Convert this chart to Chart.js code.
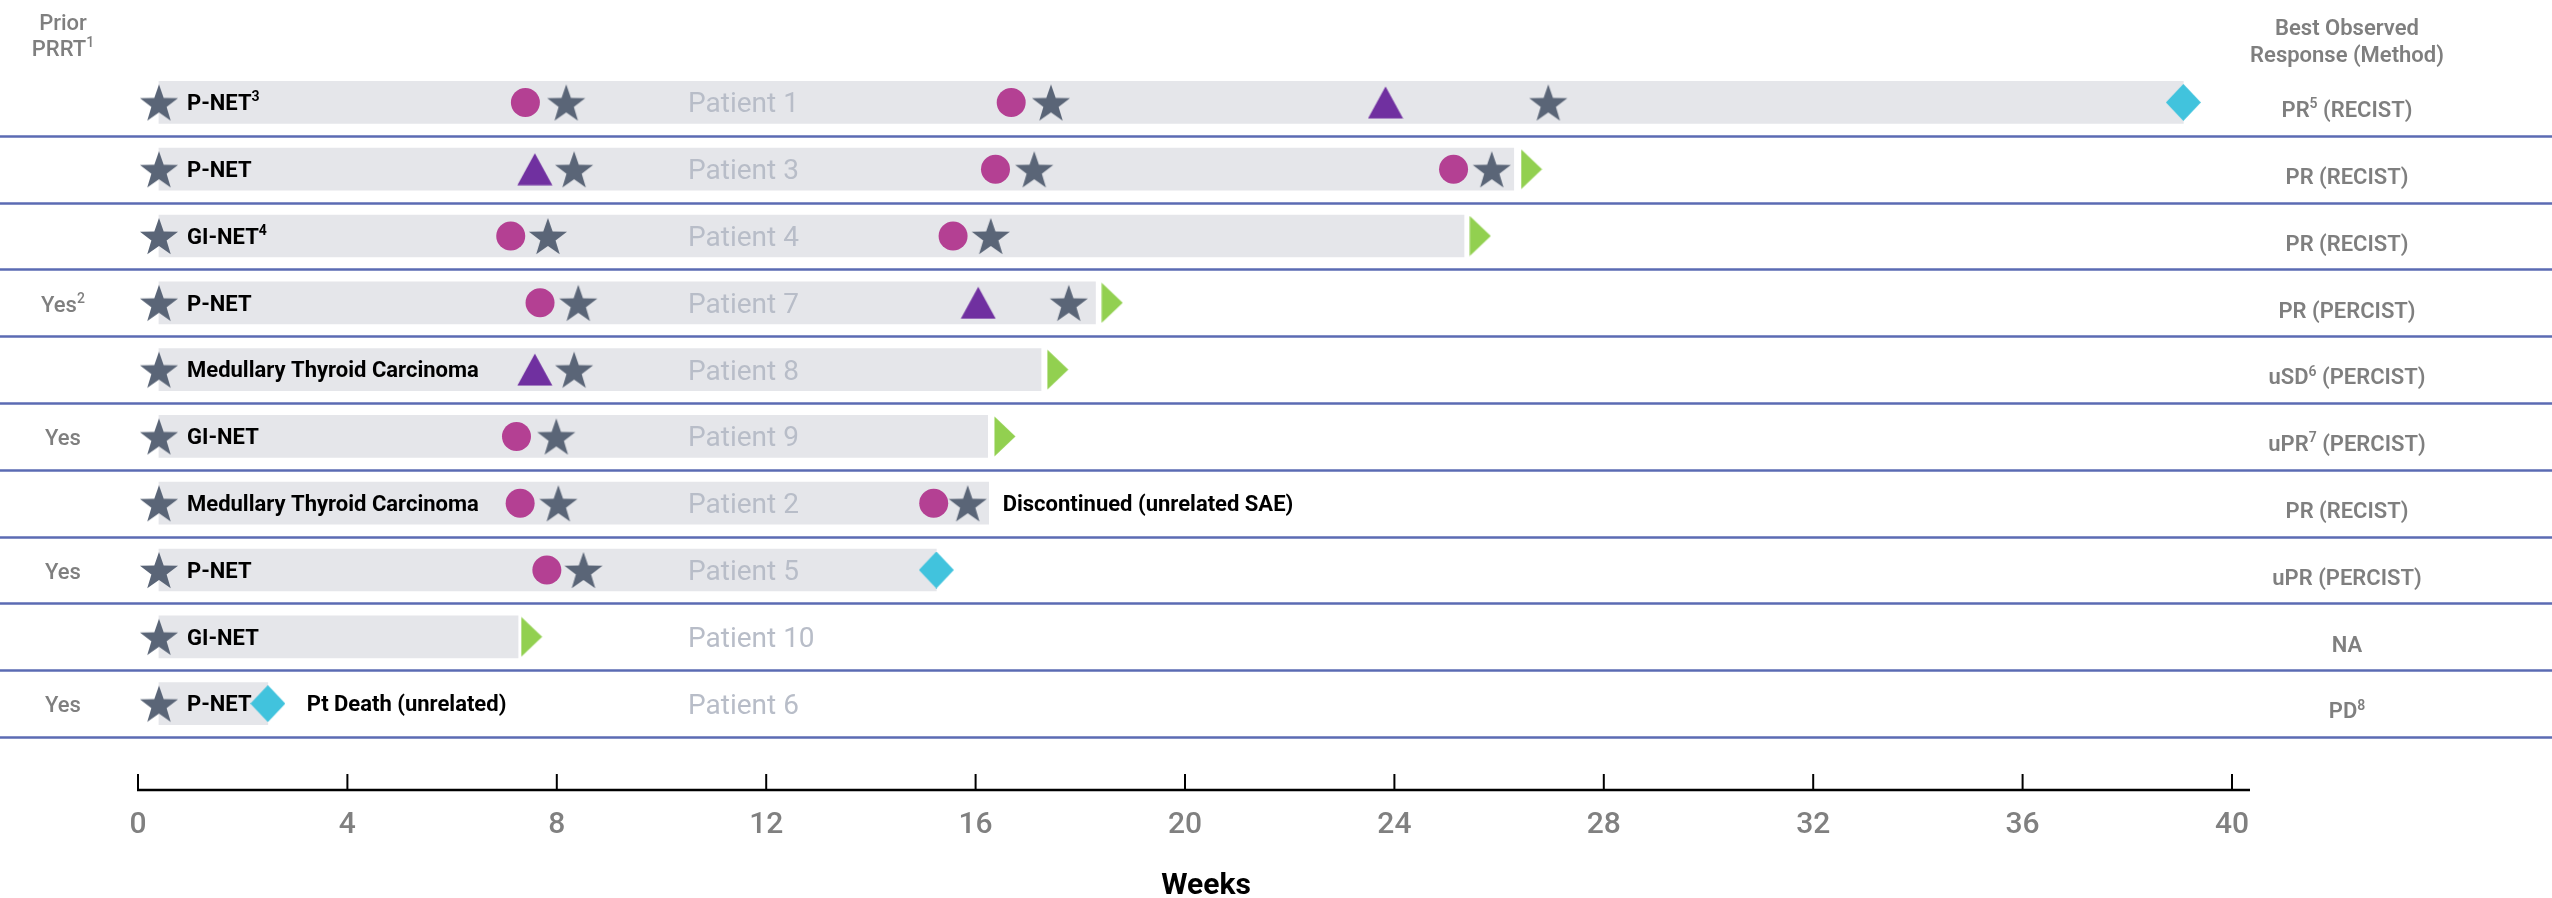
<!DOCTYPE html>
<html>
<head>
<meta charset="utf-8">
<title>Swimmer plot</title>
<script src="https://cdn.jsdelivr.net/npm/chart.js@4.4.1/dist/chart.umd.min.js"></script>
<style>
  html, body { margin: 0; padding: 0; background: #fff; }
</style>
</head>
<body>
<canvas id="swimmer" width="2552" height="898"></canvas>
<script>
/* ============================================================
   Swimmer plot — weeks on treatment per patient
   ============================================================ */

// ── Rows, top to bottom ('^' marks a one-digit superscript) ──
const patients = ['Patient 1', 'Patient 3', 'Patient 4', 'Patient 7', 'Patient 8',
                  'Patient 9', 'Patient 2', 'Patient 5', 'Patient 10', 'Patient 6'];
const tumourTypes = ['P-NET^3', 'P-NET', 'GI-NET^4', 'P-NET', 'Medullary Thyroid Carcinoma',
                     'GI-NET', 'Medullary Thyroid Carcinoma', 'P-NET', 'GI-NET', 'P-NET'];
const priorPRRT = ['', '', '', 'Yes^2', '', 'Yes', '', 'Yes', '', 'Yes'];
const bestResponse = ['PR^5 (RECIST)', 'PR (RECIST)', 'PR (RECIST)', 'PR (PERCIST)', 'uSD^6 (PERCIST)',
                      'uPR^7 (PERCIST)', 'PR (RECIST)', 'uPR (PERCIST)', 'NA', 'PD^8'];
const endNotes = ['', '', '', '', '', '', 'Discontinued (unrelated SAE)', '', '', 'Pt Death (unrelated)'];

// ── Weeks ─────────────────────────────────────────────────────
const startWeek = [0.4, 0.4, 0.4, 0.4, 0.4, 0.4, 0.4, 0.4, 0.4, 0.4];
const endWeek   = [39.07, 26.28, 25.33, 18.29, 17.25, 16.23, 16.25, 15.25, 7.26, 2.48];

const starWeeks = [
  [0.4, 8.18, 17.44, 26.94],
  [0.4, 8.33, 17.12, 25.86],
  [0.4, 7.83, 16.29],
  [0.4, 8.41, 17.78],
  [0.4, 8.33],
  [0.4, 7.99],
  [0.4, 8.03, 15.85],
  [0.4, 8.51],
  [0.4],
  [0.4]
];
const circleWeeks = [
  [7.40, 16.68], [16.38, 25.13], [7.12, 15.57], [7.68], [],
  [7.23], [7.30, 15.20], [7.81], [], []
];
const triangleWeeks = [
  [23.83], [7.58], [], [16.05], [7.58], [], [], [], [], []
];
const ongoingWeeks = [null, 26.62, 25.64, 18.61, 17.57, 16.56, null, null, 7.52, null];
const stopWeeks    = [39.07, null, null, null, null, null, null, 15.25, null, 2.48];

const weekTicks = [0, 4, 8, 12, 16, 20, 24, 28, 32, 36, 40];

// ── Colours ───────────────────────────────────────────────────
const C = {
  bar: '#e5e6ea',
  star: '#5a6577',
  circle: '#b44093',
  triangle: '#7030a0',
  ongoing: '#92d050',
  stop: '#41c3dd',
  rule: '#5b6bb3',
  grey: '#7f7f7f',
  patient: '#b8bdc8'
};
const FONT = "Roboto, 'Noto Sans', sans-serif";
Chart.defaults.font.family = FONT;

// ── Marker glyphs ─────────────────────────────────────────────
function glyph(w, h, color, path) {
  const c = document.createElement('canvas');
  c.width = w; c.height = h;
  const g = c.getContext('2d');
  g.fillStyle = color;
  g.beginPath();
  path(g, w, h);
  g.closePath();
  g.fill();
  return c;
}
const starIcon = glyph(40, 38, C.star, (g) => {
  const R = 20, r = 8, cx = 20, cy = 21;
  for (let i = 0; i < 10; i++) {
    const a = -Math.PI / 2 + i * Math.PI / 5;
    const d = i % 2 ? r : R;
    g.lineTo(cx + d * Math.cos(a), cy + d * Math.sin(a));
  }
});
const triIcon = glyph(36, 33, C.triangle, (g) => {
  g.moveTo(18, 0.5); g.lineTo(35.5, 32.5); g.lineTo(0.5, 32.5);
});
const arrowIcon = glyph(22, 41, C.ongoing, (g) => {
  g.moveTo(0.5, 0.5); g.lineTo(21.5, 20.5); g.lineTo(0.5, 40.5);
});
const diamondIcon = glyph(35, 37, C.stop, (g) => {
  g.moveTo(17.5, 0); g.lineTo(35, 18.5); g.lineTo(17.5, 37); g.lineTo(0, 18.5);
});

const points = (lists) => lists.flatMap((ws, i) => ws.map(w => ({ x: w, y: patients[i] })));
const single = (arr) => arr.map((w, i) => (w === null ? null : { x: w, y: patients[i] })).filter(Boolean);

// ── Text helpers ──────────────────────────────────────────────
function pieces(str) {
  const segs = str.split('^');
  const out = [{ t: segs[0], sup: false }];
  for (let k = 1; k < segs.length; k++) {
    out.push({ t: segs[k][0], sup: true });
    if (segs[k].length > 1) out.push({ t: segs[k].slice(1), sup: false });
  }
  return out;
}
function drawRich(ctx, str, x, yMid, size, weight, color, align) {
  const base = `${weight} ${size}px ${FONT}`;
  const sup = `${weight} ${Math.round(size * 0.62)}px ${FONT}`;
  const ps = pieces(str);
  let total = 0;
  ps.forEach(p => { ctx.font = p.sup ? sup : base; p.w = ctx.measureText(p.t).width; total += p.w; });
  let cx = align === 'center' ? x - total / 2 : x;
  const baseline = yMid + size * 0.355;
  ctx.fillStyle = color;
  ctx.textAlign = 'left';
  ctx.textBaseline = 'alphabetic';
  ps.forEach(p => {
    ctx.font = p.sup ? sup : base;
    ctx.fillText(p.t, cx, p.sup ? baseline - size * 0.4 : baseline);
    cx += p.w;
  });
}

// ── Plugin: row rules, side columns, labels, time axis ───────
const swimmerDecor = {
  id: 'swimmerDecor',
  afterDraw(chart) {
    const { ctx, chartArea, scales: { x, y } } = chart;
    const rowH = y.getPixelForValue(1) - y.getPixelForValue(0);
    ctx.save();

    // row separators across the whole width
    ctx.strokeStyle = C.rule;
    ctx.lineWidth = 2.5;
    patients.forEach((p, i) => {
      const yy = Math.round(y.getPixelForValue(i) + rowH / 2) + 0.5;
      ctx.beginPath();
      ctx.moveTo(0, yy);
      ctx.lineTo(chart.width, yy);
      ctx.stroke();
    });

    // column headers
    const leftCol = 63;
    const rightCol = chartArea.right + 115;
    drawRich(ctx, 'Prior', leftCol, 22, 22, 500, C.grey, 'center');
    drawRich(ctx, 'PRRT^1', leftCol, 48, 22, 500, C.grey, 'center');
    drawRich(ctx, 'Best Observed', rightCol, 27, 22, 600, C.grey, 'center');
    drawRich(ctx, 'Response (Method)', rightCol, 54, 22, 600, C.grey, 'center');

    patients.forEach((p, i) => {
      const yc = y.getPixelForValue(i);
      if (priorPRRT[i]) drawRich(ctx, priorPRRT[i], leftCol, yc + 1, 22, 500, C.grey, 'center');
      drawRich(ctx, bestResponse[i], rightCol, yc + 7, 22, 600, C.grey, 'center');
      drawRich(ctx, tumourTypes[i], chartArea.left + 49, yc, 22, 'bold', '#000', 'left');
      drawRich(ctx, p, chartArea.left + 550, yc, 28, 400, C.patient, 'left');
      if (endNotes[i]) {
        const gap = stopWeeks[i] !== null ? 39 : 14;
        drawRich(ctx, endNotes[i], x.getPixelForValue(endWeek[i]) + gap, yc, 22, 'bold', '#000', 'left');
      }
    });

    // time axis with upward ticks
    const axisY = chartArea.bottom + 53;
    ctx.strokeStyle = '#000';
    ctx.lineWidth = 2.5;
    ctx.beginPath();
    ctx.moveTo(x.getPixelForValue(0) - 1, axisY);
    ctx.lineTo(x.getPixelForValue(40) + 18, axisY);
    ctx.stroke();
    ctx.lineWidth = 2;
    weekTicks.forEach(w => {
      const xx = x.getPixelForValue(w);
      ctx.beginPath();
      ctx.moveTo(xx, axisY - 16);
      ctx.lineTo(xx, axisY);
      ctx.stroke();
    });

    // axis title
    drawRich(ctx, 'Weeks', (x.left + x.right) / 2 + 21, chartArea.bottom + 146, 30, 'bold', '#000', 'center');
    ctx.restore();
  }
};

// ── Chart ─────────────────────────────────────────────────────
const marker = (label, data, style, extra) => Object.assign({
  type: 'scatter',
  label,
  data,
  pointStyle: style,
  pointRadius: 18,
  pointHoverRadius: 18,
  order: 0
}, extra || {});

new Chart(document.getElementById('swimmer'), {
  type: 'bar',
  data: {
    labels: patients,
    datasets: [
      {
        label: 'Weeks on treatment',
        indexAxis: 'y',
        data: patients.map((p, i) => [startWeek[i], endWeek[i]]),
        backgroundColor: C.bar,
        borderWidth: 0,
        barThickness: 42,
        order: 10
      },
      marker('Circle', points(circleWeeks), 'circle', {
        pointRadius: 14.5, pointHoverRadius: 14.5,
        backgroundColor: C.circle, borderColor: C.circle, borderWidth: 0
      }),
      marker('Triangle', points(triangleWeeks), triIcon),
      marker('Star', points(starWeeks), starIcon),
      marker('Ongoing', single(ongoingWeeks), arrowIcon),
      marker('Stopped', single(stopWeeks), diamondIcon)
    ]
  },
  options: {
    responsive: false,
    animation: false,
    devicePixelRatio: 1,
    // tick labels need padding on both sides of them; the lower half runs past the canvas
    layout: { padding: { left: 138, right: 320, top: 69, bottom: -15 } },
    scales: {
      x: {
        type: 'linear',
        position: 'bottom',
        offset: false,
        min: 0,
        max: 40,
        afterBuildTicks: (s) => { s.ticks = weekTicks.map(v => ({ value: v })); },
        grid: { display: false, drawTicks: false, offset: false },
        border: { display: false },
        ticks: {
          padding: 70,
          color: '#808080',
          font: { size: 30, weight: 500 }
        }
      },
      y: {
        type: 'category',
        offset: true,
        display: false,
        grid: { display: false, drawTicks: false }
      }
    },
    plugins: {
      legend: { display: false },
      tooltip: { enabled: false }
    }
  },
  plugins: [swimmerDecor]
});
</script>
</body>
</html>
